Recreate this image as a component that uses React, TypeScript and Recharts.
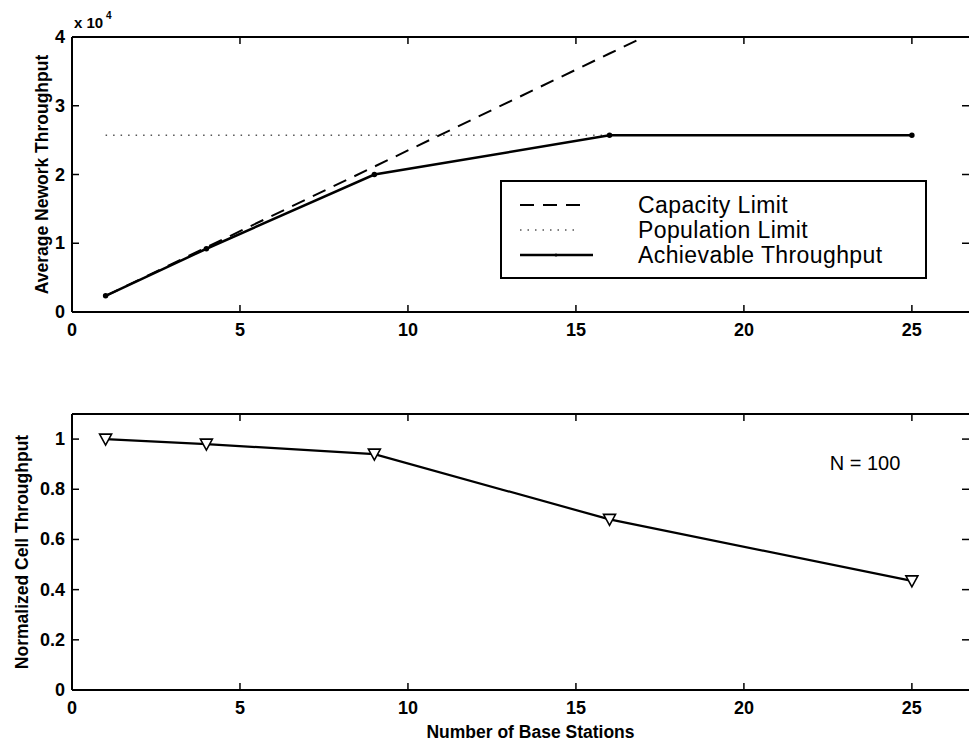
import { LineChart, Line, XAxis, YAxis, Legend } from 'recharts'

const stations = [1, 4, 9, 16, 25]
const capacityLimit = [2350, 9400, 21150, 37600, 58750]
const populationLimit = [25700, 25700, 25700, 25700, 25700]
const achievable = [2350, 9200, 20000, 25700, 25700]
const cellThroughput = [1.0, 0.98, 0.94, 0.68, 0.435]

const xTicks = [0, 5, 10, 15, 20, 25]
const topYTicks = [0, 10000, 20000, 30000, 40000]
const bottomYTicks = [0, 0.2, 0.4, 0.6, 0.8, 1]

const topData = stations.map((n, i) => ({
  n,
  capacity: capacityLimit[i],
  population: populationLimit[i],
  achievable: achievable[i],
}))
const bottomData = stations.map((n, i) => ({ n, cell: cellThroughput[i] }))

const FONT = '"Liberation Sans", Arial, Helvetica, sans-serif'
const X_DOMAIN: [number, number] = [0, 26.7]
const TICK = 7

const legendNames = ['Capacity Limit', 'Population Limit', 'Achievable Throughput']
const seriesStyle: Record<string, { dash?: string; color: string; width: number; dot?: boolean }> = {
  capacity: { dash: '14 9', color: '#000', width: 2 },
  population: { dash: '1.5 6', color: '#555', width: 1.5 },
  achievable: { color: '#000', width: 2.5, dot: true },
}

const fmtTop = (v: number) => String(v / 10000)
const fmtPlain = (v: number) => String(v)

function BottomTick(props: any) {
  const { x, y, payload, fmt } = props
  return (
    <g>
      <line x1={x} x2={x} y1={y} y2={y - TICK} stroke="#000" strokeWidth={1.5} />
      <text x={x} y={y + 18} textAnchor="middle" dominantBaseline="central" fontFamily={FONT} fontWeight="bold" fontSize={18} fill="#000">
        {fmt(payload.value)}
      </text>
    </g>
  )
}

function TopTick(props: any) {
  const { x, y } = props
  return <line x1={x} x2={x} y1={y} y2={y + TICK} stroke="#000" strokeWidth={1.5} />
}

function LeftTick(props: any) {
  const { x, y, payload, fmt } = props
  return (
    <g>
      <line x1={x} x2={x + TICK} y1={y} y2={y} stroke="#000" strokeWidth={1.5} />
      <text x={x - 7} y={y} textAnchor="end" dominantBaseline="central" fontFamily={FONT} fontWeight="bold" fontSize={18} fill="#000">
        {fmt(payload.value)}
      </text>
    </g>
  )
}

function RightTick(props: any) {
  const { x, y } = props
  return <line x1={x} x2={x - TICK} y1={y} y2={y} stroke="#000" strokeWidth={1.5} />
}

function TriangleDot(props: any) {
  const { cx, cy } = props
  if (cx == null || cy == null) return null
  return (
    <path
      d={`M${cx - 6},${cy - 5} L${cx + 6},${cy - 5} L${cx},${cy + 6} Z`}
      fill="#fff"
      stroke="#000"
      strokeWidth={1.6}
    />
  )
}

function LegendBox(props: any) {
  const payload = (props.payload || [])
    .filter((e: any) => legendNames.includes(e.value))
    .sort((a: any, b: any) => legendNames.indexOf(a.value) - legendNames.indexOf(b.value))
  return (
    <svg width={427} height={99} style={{ display: 'block' }}>
      <rect x={1} y={1} width={425} height={97} fill="#fff" stroke="#000" strokeWidth={2} />
      {payload.map((entry: any, i: number) => {
        const s = seriesStyle[entry.dataKey]
        const cy = 25 + i * 25
        return (
          <g key={entry.value}>
            <line x1={20} x2={s.dot ? 93 : 80} y1={cy} y2={cy} stroke={s.color} strokeWidth={s.width} strokeDasharray={s.dash} />
            {s.dot && <circle cx={56} cy={cy} r={1.5} fill="#000" />}
            <text x={138} y={cy} dominantBaseline="central" fontFamily={FONT} fontSize={23} letterSpacing={0.4} fill="#000">
              {entry.value}
            </text>
          </g>
        )
      })}
    </svg>
  )
}

// frame axes on the top and right sides (tick marks only)
function frameAxes(domainY: [number, number], ticksY: number[]) {
  return [
    <XAxis
      key="xt"
      xAxisId="top"
      orientation="top"
      dataKey="n"
      type="number"
      domain={X_DOMAIN}
      allowDataOverflow
      ticks={xTicks}
      height={1}
      tickSize={0}
      tickMargin={0}
      axisLine={{ stroke: '#000', strokeWidth: 2 }}
      tickLine={false}
      tick={(p: any) => <TopTick {...p} />}
    />,
    <YAxis
      key="yr"
      yAxisId="right"
      orientation="right"
      type="number"
      domain={domainY}
      allowDataOverflow
      ticks={ticksY}
      width={1}
      tickSize={0}
      tickMargin={0}
      axisLine={false}
      tickLine={false}
      tick={(p: any) => <RightTick {...p} />}
    />,
  ]
}

export default function App() {
  return (
    <div style={{ position: 'absolute', left: 0, top: 0, width: 970, height: 743, overflow: 'hidden', background: '#fff' }}>
      <div style={{ position: 'absolute', left: 0, top: 0 }}>
        <LineChart width={970} height={340} data={topData} margin={{ top: 36, right: 0, bottom: 0, left: 0 }}>
          <XAxis
            dataKey="n"
            type="number"
            domain={X_DOMAIN}
            allowDataOverflow
            ticks={xTicks}
            height={28}
            tickSize={0}
            tickMargin={0}
            axisLine={{ stroke: '#000', strokeWidth: 2 }}
            tickLine={false}
            tick={(p: any) => <BottomTick {...p} fmt={fmtPlain} />}
          />
          <YAxis
            type="number"
            domain={[0, 40000]}
            allowDataOverflow
            ticks={topYTicks}
            width={72}
            tickSize={0}
            tickMargin={0}
            axisLine={{ stroke: '#000', strokeWidth: 2 }}
            tickLine={false}
            tick={(p: any) => <LeftTick {...p} fmt={fmtTop} />}
            label={{
              value: 'Average Nework Throughput',
              angle: -90,
              position: 'insideLeft',
              offset: 42,
              style: { textAnchor: 'middle', fontFamily: FONT, fontWeight: 'bold', fontSize: 17.5, fill: '#000' },
            }}
          />
          {frameAxes([0, 40000], topYTicks)}
          <Legend
            layout="horizontal"
            verticalAlign="middle"
            align="center"
            wrapperStyle={{ left: 500, top: 180, width: 427, height: 99 }}
            content={(p: any) => <LegendBox {...p} />}
          />
          <Line
            xAxisId="top"
            yAxisId="right"
            dataKey="population"
            legendType="none"
            stroke="none"
            dot={false}
            activeDot={false}
            isAnimationActive={false}
          />
          <Line
            dataKey="capacity"
            name="Capacity Limit"
            stroke="#000"
            strokeWidth={2}
            strokeDasharray="14 9"
            dot={false}
            isAnimationActive={false}
          />
          <Line
            dataKey="population"
            name="Population Limit"
            stroke="#555"
            strokeWidth={1.5}
            strokeDasharray="1.5 6"
            dot={false}
            isAnimationActive={false}
          />
          <Line
            dataKey="achievable"
            name="Achievable Throughput"
            stroke="#000"
            strokeWidth={2.5}
            dot={{ r: 1.5, fill: '#000', stroke: '#000' }}
            isAnimationActive={false}
          />
        </LineChart>
      </div>

      <div style={{ position: 'absolute', left: 0, top: 380 }}>
        <LineChart width={970} height={363} data={bottomData} margin={{ top: 33, right: 0, bottom: 0, left: 0 }}>
          <XAxis
            dataKey="n"
            type="number"
            domain={X_DOMAIN}
            allowDataOverflow
            ticks={xTicks}
            height={53}
            tickSize={0}
            tickMargin={0}
            axisLine={{ stroke: '#000', strokeWidth: 2 }}
            tickLine={false}
            tick={(p: any) => <BottomTick {...p} fmt={fmtPlain} />}
            label={{
              value: 'Number of Base Stations',
              position: 'insideBottom',
              offset: 5,
              dx: 10,
              style: { fontFamily: FONT, fontWeight: 'bold', fontSize: 17.5, fill: '#000' },
            }}
          />
          <YAxis
            type="number"
            domain={[0, 1.1]}
            allowDataOverflow
            ticks={bottomYTicks}
            width={72}
            tickSize={0}
            tickMargin={0}
            axisLine={{ stroke: '#000', strokeWidth: 2 }}
            tickLine={false}
            tick={(p: any) => <LeftTick {...p} fmt={fmtPlain} />}
            label={{
              value: 'Normalized Cell Throughput',
              angle: -90,
              position: 'insideLeft',
              offset: 22,
              style: { textAnchor: 'middle', fontFamily: FONT, fontWeight: 'bold', fontSize: 17.5, fill: '#000' },
            }}
          />
          {frameAxes([0, 1.1], bottomYTicks)}
          <Line
            xAxisId="top"
            yAxisId="right"
            dataKey="cell"
            legendType="none"
            stroke="none"
            dot={false}
            activeDot={false}
            isAnimationActive={false}
          />
          <Line
            dataKey="cell"
            name="Normalized Cell Throughput"
            stroke="#000"
            strokeWidth={2.2}
            dot={(p: any) => <TriangleDot key={p.index} {...p} />}
            isAnimationActive={false}
          />
        </LineChart>
      </div>

      <svg width={970} height={743} style={{ position: 'absolute', left: 0, top: 0, pointerEvents: 'none' }}>
        <text x={74} y={28} fontFamily={FONT} fontWeight="bold" fontSize={15} fill="#000">
          x 10
        </text>
        <text x={106} y={19} fontFamily={FONT} fontWeight="bold" fontSize={10} fill="#000">
          4
        </text>
        <text x={865} y={463} textAnchor="middle" dominantBaseline="central" fontFamily={FONT} fontSize={20} fill="#000">
          N = 100
        </text>
      </svg>
    </div>
  )
}
